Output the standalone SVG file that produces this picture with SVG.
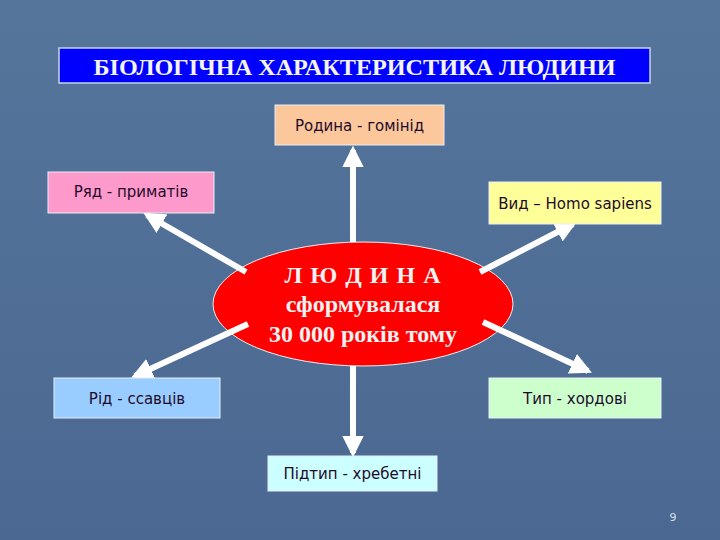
<svg xmlns="http://www.w3.org/2000/svg" width="720" height="540" viewBox="0 0 720 540">
<defs>
<linearGradient id="bg" x1="0" y1="0" x2="0" y2="1">
<stop offset="0" stop-color="#56759b"/>
<stop offset="1" stop-color="#4a6891"/>
</linearGradient>
<marker id="ah" viewBox="0 0 10 10" refX="8" refY="5" markerWidth="3.6" markerHeight="3.6" orient="auto" markerUnits="strokeWidth">
<path d="M0,0 L10,5 L0,10 z" fill="#ffffff"/>
</marker>
<style>
.box{stroke:#e8eef5;stroke-width:1}
.lbl{font-family:Tahoma,"DejaVu Sans","Noto Sans",sans-serif;font-size:15px;fill:#1e0b2c;text-anchor:middle}
.conn{stroke:#ffffff;stroke-width:6;fill:none;marker-end:url(#ah)}
.ser{font-family:"Liberation Serif","Times New Roman",serif;font-weight:bold;text-anchor:middle}
</style>
</defs>
<rect width="720" height="540" fill="url(#bg)"/>
<g id="title">
<rect x="59" y="48" width="591" height="35" fill="#0000ff" stroke="#c8d4e4" stroke-width="1.5"/>
<text x="354.500" y="75" class="ser" font-size="24" fill="#f4f4f4" textLength="522" lengthAdjust="spacingAndGlyphs">БІОЛОГІЧНА ХАРАКТЕРИСТИКА ЛЮДИНИ</text>
</g>
<g id="center">
<ellipse cx="363" cy="304" rx="150" ry="62" fill="#ff0000" stroke="#f0f0f0" stroke-width="1"/>
<text x="363" y="283" class="ser" font-size="24" fill="#f2f2f2" letter-spacing="1">Л Ю Д И Н А</text>
<text x="363" y="312" class="ser" font-size="24" fill="#f2f2f2">сформувалася</text>
<text x="363" y="342" class="ser" font-size="24" fill="#f2f2f2">30 000 років тому</text>
</g>
<g id="connectors">
<line x1="353" y1="242" x2="353" y2="150" class="conn"/>
<line x1="353" y1="366" x2="353" y2="453" class="conn"/>
<line x1="246" y1="272" x2="147" y2="215" class="conn"/>
<line x1="480" y1="272" x2="573" y2="224" class="conn"/>
<line x1="248" y1="324" x2="135" y2="376" class="conn"/>
<line x1="483" y1="322" x2="588" y2="371" class="conn"/>
</g>
<g id="rodyna">
<rect x="275" y="105" width="169" height="40" fill="#fcc79a" class="box"/>
<text x="359.500" y="131" class="lbl">Родина - гомінід</text>
</g>
<g id="riad">
<rect x="48" y="172" width="166" height="41" fill="#fe9acb" class="box"/>
<text x="131" y="197" class="lbl">Ряд - приматів</text>
</g>
<g id="vyd">
<rect x="489" y="182" width="172" height="42" fill="#ffff99" class="box"/>
<text x="575" y="209" class="lbl">Вид – Homo sapiens</text>
</g>
<g id="rid">
<rect x="54" y="378" width="166" height="40" fill="#99ccff" class="box"/>
<text x="137" y="404" class="lbl">Рід - ссавців</text>
</g>
<g id="typ">
<rect x="489" y="378" width="172" height="40" fill="#ccffcc" class="box"/>
<text x="575" y="404" class="lbl">Тип - хордові</text>
</g>
<g id="pidtyp">
<rect x="268" y="456" width="169" height="35" fill="#ccffff" class="box"/>
<text x="352.500" y="479" class="lbl">Підтип - хребетні</text>
</g>
<text x="673" y="521" font-family="Tahoma,'DejaVu Sans',sans-serif" font-size="11" fill="#d8e0ea" text-anchor="middle">9</text>
</svg>
